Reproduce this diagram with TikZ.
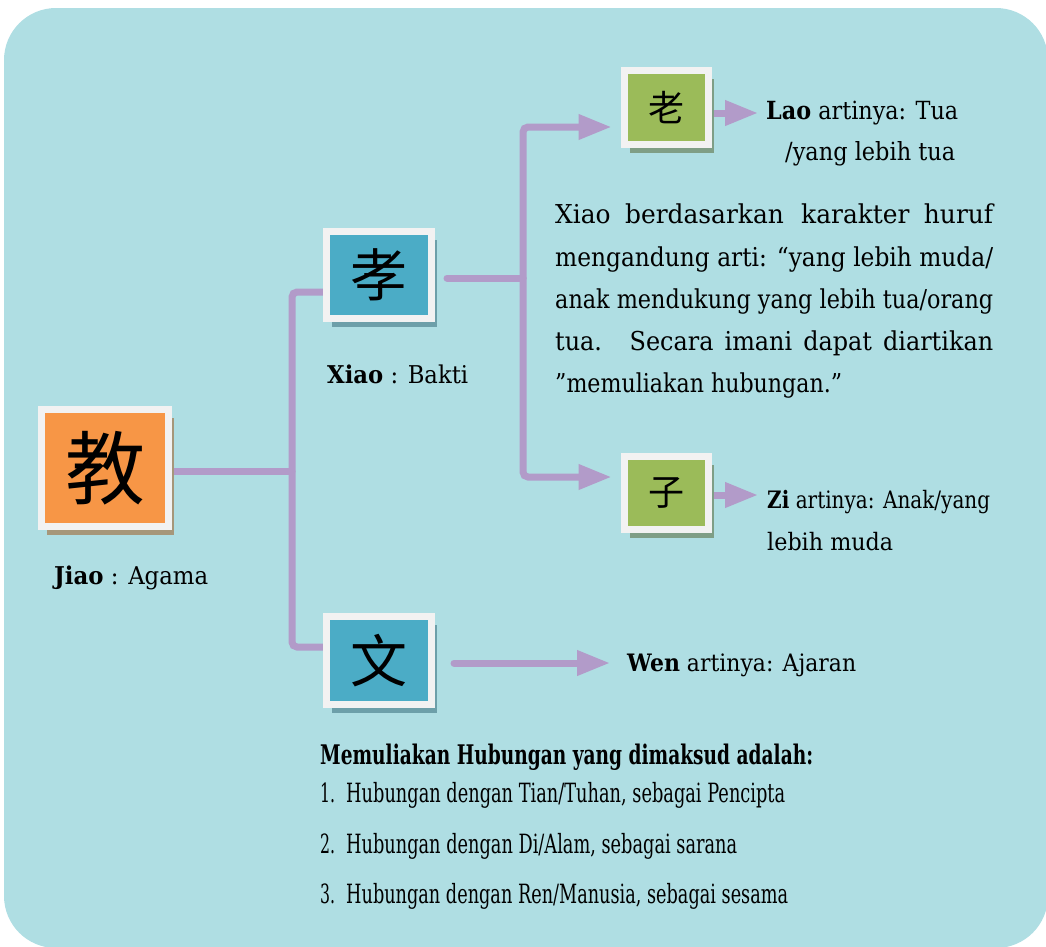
\documentclass[tikz,border=0pt]{standalone}
\usepackage{fontspec}
\usepackage{graphicx}
\setmainfont{DejaVu Serif}
\newfontfamily\cjk{Noto Sans CJK SC}
\usetikzlibrary{arrows.meta,shadows}
\definecolor{panelc}{RGB}{175,222,227}
\definecolor{connc}{RGB}{178,155,201}
\definecolor{framew}{RGB}{242,242,242}
\definecolor{boxor}{RGB}{247,150,70}
\definecolor{boxbl}{RGB}{75,172,198}
\definecolor{boxgr}{RGB}{155,187,89}
\definecolor{shor}{RGB}{166,151,122}
\definecolor{shbl}{RGB}{109,159,169}
\definecolor{shgr}{RGB}{127,158,134}
\pgfdeclarelayer{panel}
\pgfdeclarelayer{lines}
\pgfsetlayers{panel,lines,main}
\tikzset{
  charbox/.style={draw=framew, line width=7pt, inner sep=0pt},
  boxO/.style={charbox, fill=boxor, general shadow={fill=shor, shadow xshift=5.5pt, shadow yshift=-8.5pt}},
  boxB/.style={charbox, fill=boxbl, general shadow={fill=shbl, shadow xshift=5.5pt, shadow yshift=-8pt}},
  boxG/.style={charbox, fill=boxgr, general shadow={fill=shgr, shadow xshift=5.5pt, shadow yshift=-8pt}},
  conn/.style={draw=connc, line width=7pt, line cap=round, rounded corners=5pt},
  arr/.style={conn, -{Triangle[length=33pt,width=24pt]}},
  txt/.style={inner sep=0pt, anchor=base west},
}
\newcommand{\sz}[1]{\fontsize{#1}{#1}\selectfont}
\newsavebox\fitbox
% scale text horizontally to a given width (in pt)
\newcommand{\fitw}[2]{\sbox\fitbox{#2}\scalebox{\fpeval{(#1)/(\the\wd\fitbox)}}[1]{\usebox\fitbox}}
\begin{document}
\begin{tikzpicture}[x=1pt,y=-1pt]
\useasboundingbox (0,0) rectangle (1046,946);
\begin{pgfonlayer}{panel}
\fill[panelc, rounded corners=52pt] (4,8) rectangle (1048,948);
\end{pgfonlayer}

% character boxes
\node[boxO, minimum width=127pt, minimum height=117pt] (jiao) at (105,468) {\cjk\sz{80}教};
\node[boxB, minimum width=105pt, minimum height=87pt] (xiao) at (379,275) {\cjk\sz{57}孝};
\node[boxB, minimum width=105pt, minimum height=88pt] (wen) at (379,660.5) {\cjk\sz{57}文};
\node[boxG, minimum width=84pt, minimum height=74pt] (lao) at (666.5,107.5) {\cjk\sz{36}老};
\node[boxG, minimum width=84pt, minimum height=73pt] (zi) at (666.5,493) {\cjk\sz{36}子};

% labels
\node[txt] (jiaoL) at (54,584) {\sz{24.5}\fitw{154}{\textbf{Jiao} : Agama}};
\node[txt] (xiaoL) at (327,383) {\sz{24.5}\fitw{141}{\textbf{Xiao} : Bakti}};
\node[txt] (laoL1) at (766,119) {\sz{25}\fitw{192}{\textbf{Lao} artinya: Tua}};
\node[txt] (laoL2) at (785,160) {\sz{25}\fitw{170}{/yang lebih tua}};
\node[txt] (ziL1) at (767,508) {\sz{24}\fitw{223}{\textbf{Zi} artinya: Anak/yang}};
\node[txt] (ziL2) at (767,550) {\sz{24}\fitw{126}{lebih muda}};
\node[txt] (wenL) at (627,671) {\sz{24}\fitw{229}{\textbf{Wen} artinya: Ajaran}};

% paragraph
\node[txt] (p1) at (555,223) {\sz{26}\fitw{438}{Xiao\hspace{15pt}berdasarkan\hspace{18pt}karakter\hspace{15pt}huruf}};
\node[txt] (p2) at (555,266) {\sz{26}\fitw{438}{mengandung arti: “yang lebih muda/}};
\node[txt] (p3) at (555,308) {\sz{26}\fitw{438}{anak mendukung yang lebih tua/orang}};
\node[txt] (p4) at (555,350) {\sz{26}\fitw{438}{tua.\hspace{30pt}Secara\hspace{12pt}imani\hspace{12pt}dapat\hspace{12pt}diartikan}};
\node[txt] (p5) at (555,392) {\sz{26}\fitw{287}{”memuliakan hubungan.”}};

% list
\node[txt] (head) at (320,764) {\sz{27}\fitw{493}{\textbf{Memuliakan Hubungan yang dimaksud adalah:}}};
\node[txt] (it1) at (320,802) {\sz{26.5}\makebox[26pt][l]{\fitw{15}{1.}}\fitw{439}{Hubungan dengan Tian/Tuhan, sebagai Pencipta}};
\node[txt] (it2) at (320,853) {\sz{26.5}\makebox[26pt][l]{\fitw{15}{2.}}\fitw{391}{Hubungan dengan Di/Alam, sebagai sarana}};
\node[txt] (it3) at (320,903) {\sz{26.5}\makebox[26pt][l]{\fitw{15}{3.}}\fitw{442}{Hubungan dengan Ren/Manusia, sebagai sesama}};

% connectors
\coordinate (tj) at (292,471);
\coordinate (t1) at (292,292);
\coordinate (t2) at (292,647);
\coordinate (s0) at (523,278);
\coordinate (s1) at (523,127);
\coordinate (s2) at (523,477);
\coordinate (laoTip) at (758,113);
\coordinate (ziTip) at (758,495);
\coordinate (wenTip) at (610,663);
\begin{pgfonlayer}{lines}
\draw[conn] (jiao.east |- tj) -- (tj);
\draw[conn] (xiao.west |- t1) -- (t1) -- (t2) -- (wen.west |- t2);
\draw[conn, shorten <=12pt] (xiao.east |- s0) -- (s0);
\draw[arr, shorten >=9.5pt] (s0) -- (s1) -- (lao.west |- s1);
\draw[arr, shorten >=9.5pt] (s0) -- (s2) -- (zi.west |- s2);
\draw[arr] (lao.east |- laoTip) -- (laoTip);
\draw[arr] (zi.east |- ziTip) -- (ziTip);
\draw[arr, shorten <=19pt] (wen.east |- wenTip) -- (wenTip);
\end{pgfonlayer}
\end{tikzpicture}
\end{document}
